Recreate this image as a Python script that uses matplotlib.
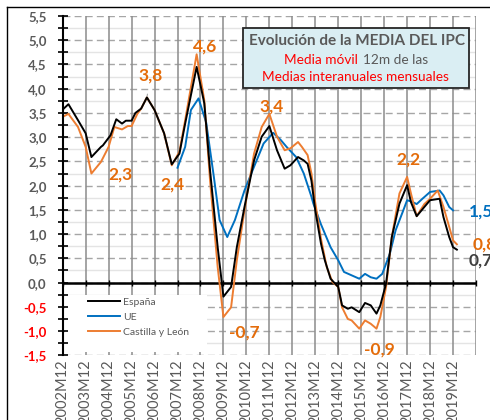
import numpy as np
import matplotlib
matplotlib.use("Agg")
import matplotlib.pyplot as plt
from matplotlib.patches import Rectangle
from matplotlib.lines import Line2D
from matplotlib.ticker import FuncFormatter, MultipleLocator

plt.rcParams['font.family'] = ['Lato', 'DejaVu Sans']

# meses contados desde 2002M12
esp_m = [0, 3, 8, 12, 15, 20, 21, 25, 28, 31, 33, 36, 38, 41, 44, 48, 53, 57, 61, 64, 70,
         74, 77, 81, 84, 88, 91, 95, 100, 104, 108, 112, 116, 119, 123, 126, 128, 130, 132,
         135, 137, 140, 144, 146, 149, 151, 155, 158, 161, 164, 166, 169, 172, 176, 180,
         182, 185, 189, 192, 197, 199, 202, 204, 206]
esp_v = [3.57, 3.68, 3.35, 3.08, 2.59, 2.80, 2.83, 3.04, 3.37, 3.28, 3.34, 3.34, 3.50, 3.59,
         3.82, 3.56, 3.08, 2.44, 2.66, 3.28, 4.45, 3.70, 2.32, 0.73, -0.29, -0.09, 0.73, 1.56,
         2.52, 3.01, 3.23, 2.73, 2.35, 2.42, 2.59, 2.52, 2.45, 2.10, 1.49, 0.80, 0.46, 0.08,
         -0.09, -0.47, -0.54, -0.51, -0.61, -0.42, -0.47, -0.64, -0.47, -0.02, 0.94, 1.63,
         2.01, 1.66, 1.37, 1.56, 1.70, 1.73, 1.35, 0.94, 0.73, 0.68]

ue_m = [60, 64, 67, 71, 75, 79, 82, 86, 90, 95, 100, 105, 110, 114, 117, 122, 126, 130, 131,
        135, 140, 144, 147, 151, 155, 158, 161, 164, 167, 171, 174, 178, 180, 183, 185, 188,
        192, 197, 199, 202, 204]
ue_v = [2.37, 2.80, 3.56, 3.80, 3.30, 2.18, 1.29, 0.94, 1.29, 1.90, 2.39, 2.87, 3.09, 2.94,
        2.80, 2.59, 2.25, 1.77, 1.63, 1.20, 0.73, 0.46, 0.22, 0.15, 0.08, 0.18, 0.11, 0.08,
        0.18, 0.60, 1.08, 1.49, 1.70, 1.66, 1.62, 1.73, 1.87, 1.90, 1.80, 1.56, 1.49]

cyl_m = [0, 3, 8, 12, 15, 20, 24, 27, 31, 34, 36, 39, 41, 44, 48, 53, 57, 61, 64, 70, 74, 77,
         81, 84, 88, 91, 95, 100, 104, 108, 112, 116, 119, 123, 125, 128, 130, 132, 135, 138,
         141, 144, 146, 149, 151, 155, 158, 161, 164, 166, 169, 172, 176, 180, 182, 185, 189,
         192, 196, 199, 202, 204, 206]
cyl_v = [3.42, 3.48, 3.21, 2.80, 2.25, 2.49, 2.80, 3.21, 3.16, 3.23, 3.23, 3.48, 3.59, 3.82,
         3.56, 3.08, 2.42, 2.70, 3.35, 4.71, 3.76, 2.11, 0.32, -0.71, -0.51, 0.46, 1.49, 2.66,
         3.21, 3.48, 3.01, 2.73, 2.77, 2.90, 2.80, 2.63, 2.25, 1.65, 0.90, 0.32, 0.01, -0.09,
         -0.51, -0.75, -0.78, -0.95, -0.78, -0.85, -0.95, -0.71, -0.09, 0.94, 1.84, 2.18,
         1.84, 1.37, 1.62, 1.73, 1.90, 1.56, 1.15, 0.87, 0.79]

year_labels = [f"{y}M12" for y in range(2002, 2020)]

# etiquetas de datos: texto, mes, valor
anot_txt = ["2,3", "3,8", "2,4", "4,6", "-0,7", "3,4", "-0,9", "2,2"]
anot_m = [30, 46, 57.6, 74.6, 95, 109.2, 165.4, 180.6]
anot_v = [2.23, 4.28, 2.02, 4.87, -1.02, 3.64, -1.39, 2.54]

fin_txt = ["1,5", "0,8", "0,7"]
fin_m = [212.2, 214.3, 212.2]
fin_v = [1.47, 0.79, 0.46]

C_ESP = 'black'
C_UE = '#0070C0'
C_CYL = '#ED7D31'
C_LAB = '#E46C0A'
GRIS = '#595959'

W, H = 490, 420
fig = plt.figure(figsize=(W / 100, H / 100), dpi=100)
ax = fig.add_axes([62.7 / W, 1 - 355.3 / H, 413.3 / W, 339.3 / H])

def fx(x):
    return x / W

def fy(y):
    return 1 - y / H

# marco exterior
fig.add_artist(Line2D([fx(6.7), 1.0], [fy(7), fy(7)], color='black', lw=1, transform=fig.transFigure))
fig.add_artist(Line2D([fx(6.7), fx(6.7)], [fy(7), 0.0], color='black', lw=1, transform=fig.transFigure))

ax.set_xlim(0, 216)
ax.set_ylim(-1.5, 5.5)

# rejilla
for v in np.arange(-1.25, 5.5, 0.5):
    ax.axhline(v, color='#E4E4E4', lw=1, zorder=0.5)
for v in np.arange(-1.5, 5.51, 0.5):
    ax.axhline(v, color='#A6A6A6', lw=1, ls=(0, (5, 3)), zorder=0.6)
for m in range(12, 217, 12):
    ax.axvline(m, color='#8C8C8C', lw=1.1, zorder=0.7)

# caja de la leyenda
ax.add_patch(Rectangle((0.006, 0.01), 0.343, 0.168, transform=ax.transAxes,
                       facecolor='white', edgecolor='none', zorder=1))

ax.plot(ue_m, ue_v, color=C_UE, lw=1.4, zorder=3, label='UE')
ax.plot(cyl_m, cyl_v, color=C_CYL, lw=1.4, zorder=3.1, label='Castilla y León')
ax.plot(esp_m, esp_v, color=C_ESP, lw=1.4, zorder=3.2, label='España')

ax.axhline(0, color='black', lw=1.8, zorder=2.8)

for sp in ['top', 'right']:
    ax.spines[sp].set_visible(False)
ax.spines['left'].set_linewidth(1.5)
ax.spines['left'].set_zorder(4)
ax.spines['bottom'].set_position(('data', 0))
ax.spines['bottom'].set_visible(False)

ax.set_xticks(range(0, 217, 12))
ax.tick_params(axis='x', direction='inout', length=5, width=1, labelbottom=False, color='black')

ax.yaxis.set_major_locator(MultipleLocator(0.5))
ax.yaxis.set_minor_locator(MultipleLocator(0.25))
ax.yaxis.set_major_formatter(FuncFormatter(lambda v, _: f"{v:.1f}".replace('.', ',')))
ax.tick_params(axis='y', which='both', direction='inout', length=7, width=1.2, pad=8,
               labelsize=9.5, labelcolor=GRIS)
for lab in ax.get_yticklabels():
    lab.set_fontweight('bold')
    if lab.get_position()[1] < 0:
        lab.set_color('#FF0000')

secax = ax.secondary_xaxis('bottom')
secax.set_xticks(range(0, 12 * len(year_labels), 12), labels=year_labels)
secax.tick_params(length=0, pad=3, labelrotation=90, labelsize=10.5, labelcolor=GRIS)
secax.spines['bottom'].set_visible(False)

h, l = ax.get_legend_handles_labels()
orden = [2, 0, 1]
leg = ax.legend([h[i] for i in orden], [l[i] for i in orden], loc='upper left',
                bbox_to_anchor=(0.061, 0.17), borderaxespad=0, borderpad=0, frameon=False,
                fontsize=7.5, handlelength=3.1, handletextpad=0.3, labelspacing=0.55)
for t in leg.get_texts():
    t.set_color(GRIS)
leg.set_zorder(5)

for txt, m, v in zip(anot_txt, anot_m, anot_v):
    if txt == "3,8":
        ax.annotate(txt, xy=(44, 3.82), xytext=(m, v), ha='center', va='center',
                    fontsize=12.5, fontweight='bold', color=C_LAB, zorder=6,
                    arrowprops=dict(arrowstyle='-', color='#A6A6A6', lw=0.8, shrinkA=6, shrinkB=1))
    else:
        ax.text(m, v, txt, ha='center', va='center', fontsize=12.5, fontweight='bold',
                color=C_LAB, zorder=6)

for txt, m, v, c in zip(fin_txt, fin_m, fin_v, [C_UE, C_LAB, '#404040']):
    ax.text(m, v, txt, ha='left', va='center', fontsize=12.5, fontweight='bold',
            color=c, clip_on=False, zorder=6)

# recuadro del titulo
fig.add_artist(Rectangle((fx(243.3), fy(88.3)), (469 - 243.3) / W, 60 / H,
                         transform=fig.transFigure, facecolor='#DAEEF3',
                         edgecolor='#262626', lw=1.3, zorder=7))
fig.text(fx(356.7), fy(40.7), "Evolución de la MEDIA DEL IPC", ha='center', va='center',
         fontsize=11, fontweight='bold', color=GRIS, zorder=8)
fig.text(fx(358.3), fy(60), "Media móvil", ha='right', va='center', fontsize=9.8,
         color='#FF0000', zorder=8)
fig.text(fx(362.5), fy(60), "12m de las", ha='left', va='center', fontsize=9.8,
         color=GRIS, zorder=8)
fig.text(fx(355.3), fy(77.3), "Medias interanuales mensuales", ha='center', va='center',
         fontsize=9.8, color='#FF0000', zorder=8)

fig.savefig('out.png', dpi=100)
